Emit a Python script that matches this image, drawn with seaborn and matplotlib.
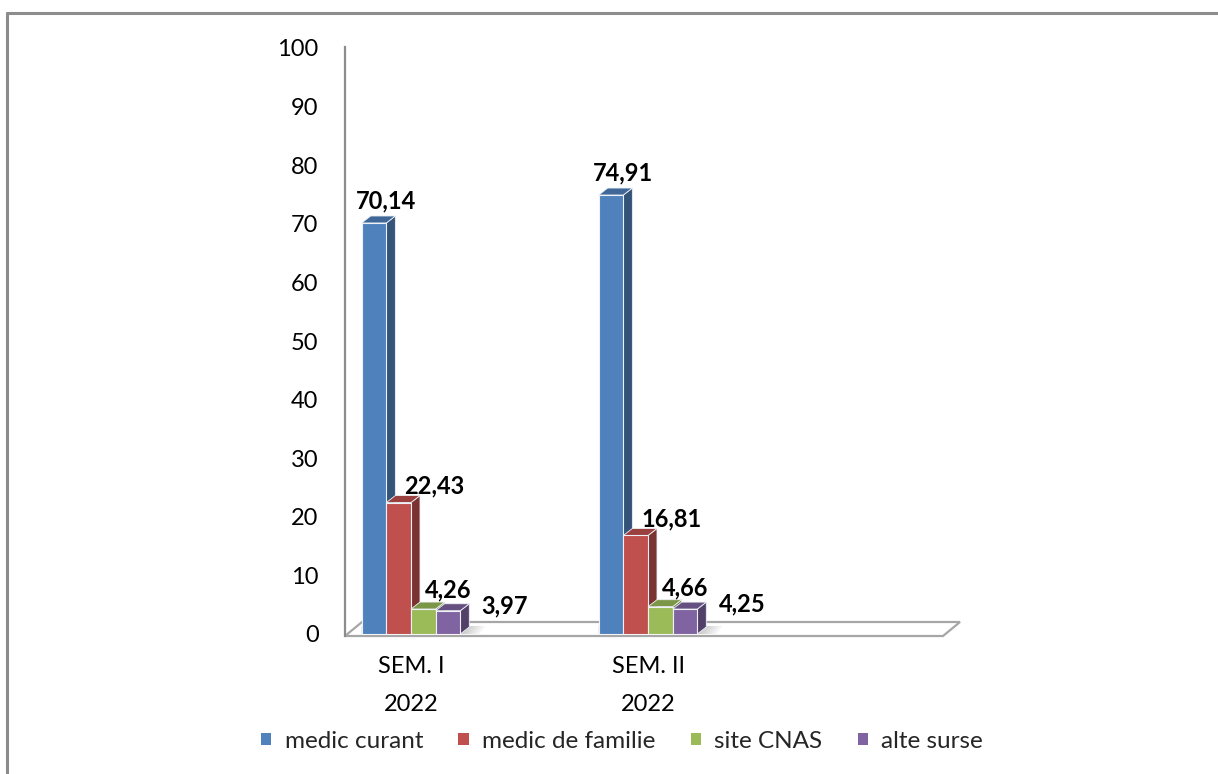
import numpy as np
import pandas as pd
import matplotlib
matplotlib.use("Agg")
import matplotlib.pyplot as plt
import matplotlib.colors as mcolors
from matplotlib.patches import Polygon, Rectangle
from matplotlib.lines import Line2D
import seaborn as sns

# ---- data -------------------------------------------------------------
periods = ["SEM. I\n2022", "SEM. II\n2022"]
sources = ["medic curant", "medic de familie", "site CNAS", "alte surse"]
medic_curant = [70.14, 74.91]
medic_de_familie = [22.43, 16.81]
site_cnas = [4.26, 4.66]
alte_surse = [3.97, 4.25]
y_ticks = list(range(0, 101, 10))

colors = ["#4F81BD", "#C0504D", "#9BBB59", "#8064A2"]

df = pd.DataFrame({
    "period": periods * len(sources),
    "source": np.repeat(sources, len(periods)),
    "value": medic_curant + medic_de_familie + site_cnas + alte_surse,
})

# ---- figure -----------------------------------------------------------
sns.set_theme(style="white")
plt.rcParams["font.family"] = ["Lato", "DejaVu Sans"]

W, H = 1218, 774
fig = plt.figure(figsize=(W / 100, H / 100), dpi=100)
fig.patch.set_facecolor("white")


def fx(px):
    return px / W


def fy(py):
    return 1 - py / H


ax = fig.add_axes([fx(345), fy(634), fx(943) - fx(345), fy(48) - fy(634)])
sns.barplot(data=df, x="period", y="value", hue="source", order=periods,
            hue_order=sources, palette=colors, saturation=1, width=0.416,
            errorbar=None, legend=False, ax=ax)

bars = sorted([p for p in ax.patches if isinstance(p, Rectangle)],
              key=lambda p: p.get_x())

ax.set_xlim(-0.2785, 2.2447)
ax.set_ylim(0, 100)

# pixel scale helpers for the pseudo-3D depth
px_x = (ax.get_xlim()[1] - ax.get_xlim()[0]) / 598.0
px_y = 100.0 / 586.0
dx, dy = 9 * px_x, 7 * px_y


def shade(c, f):
    r, g, b = mcolors.to_rgb(c)
    return (r * f, g * f, b * f)


# floor
floor = Polygon([(-0.2785, -2 * px_y), (2.2447, -2 * px_y),
                 (2.2447 + 17 * px_x, 12 * px_y), (-0.2785 + 17 * px_x, 12 * px_y)],
                closed=True, facecolor="white", edgecolor="#A6A6A6", lw=1.6,
                zorder=0.5, clip_on=False)
ax.add_patch(floor)

# soft shadow cast by each group of bars onto the floor
for gx in range(len(periods)):
    grp = [b for b in bars if abs(b.get_x() + b.get_width() / 2 - gx) < 0.3]
    left = min(b.get_x() for b in grp)
    right = max(b.get_x() + b.get_width() for b in grp)
    for k in range(6):
        ext = (4 + k * 3) * px_x
        shadow = Polygon([(left, 0), (right + ext, 0),
                          (right + ext + 6 * px_x, 8 * px_y), (left, 8 * px_y)],
                         closed=True, facecolor="#7F7F7F", edgecolor="none",
                         alpha=0.07, zorder=1)
        ax.add_patch(shadow)

offsets = {
    "#4F81BD": (12, 22),
    "#C0504D": (36, 17),
    "#9BBB59": (25, 19),
    "#8064A2": (57, 5),
}
for i, bar in enumerate(bars):
    x0, w, h = bar.get_x(), bar.get_width(), bar.get_height()
    col = mcolors.to_hex(bar.get_facecolor()).upper()
    z = 3 + i * 0.1
    bar.set_zorder(z + 0.05)
    bar.set_edgecolor("#EEF2F8")
    bar.set_linewidth(0.8)
    side = Polygon([(x0 + w, 0), (x0 + w + dx, dy), (x0 + w + dx, h + dy), (x0 + w, h)],
                   closed=True, facecolor=shade(col, 0.64), edgecolor="#EEF2F8",
                   lw=0.6, zorder=z, clip_on=False)
    top = Polygon([(x0, h), (x0 + dx, h + dy), (x0 + w + dx, h + dy), (x0 + w, h)],
                  closed=True, facecolor=shade(col, 0.8), edgecolor="#EEF2F8",
                  lw=0.6, zorder=z, clip_on=False)
    ax.add_patch(side)
    ax.add_patch(top)
    ox, oy = offsets.get(col, (15, 18))
    ax.annotate(f"{h:.2f}".replace(".", ","), xy=(x0 + w / 2, h),
                xytext=(ox, oy), textcoords="offset pixels", ha="center",
                va="center", fontsize=17, fontweight="bold", color="black",
                zorder=10, annotation_clip=False)

# axes styling
for s in ["top", "right", "bottom"]:
    ax.spines[s].set_visible(False)
ax.spines["left"].set_color("#8C8C8C")
ax.spines["left"].set_linewidth(1.6)
ax.spines["left"].set_bounds(-2 * px_y, 100.2)
ax.set_yticks(y_ticks)
ax.set_yticklabels([str(t) for t in y_ticks])
ax.tick_params(axis="y", length=0, pad=19, labelsize=17, labelcolor="black")
ax.tick_params(axis="x", length=0, pad=16, labelsize=17, labelcolor="black")
for lbl in ax.get_xticklabels():
    lbl.set_linespacing(2.0)
ax.set_xlabel("")
ax.set_ylabel("")
ax.grid(False)
ax.set_facecolor("none")

# legend
handles = [Rectangle((0, 0), 1, 1, facecolor=c, edgecolor="none") for c in colors]
fig.legend(handles, sources, loc="center", bbox_to_anchor=(fx(622), fy(741)),
           ncol=4, frameon=False, fontsize=17.5, handlelength=0.42,
           handleheight=0.42, handletextpad=0.55, columnspacing=1.45)

# outer frame (top and left edges)
fig.add_artist(Line2D([fx(7), 1.0], [fy(13), fy(13)], color="#8C8C8C", lw=2.2,
                      transform=fig.transFigure))
fig.add_artist(Line2D([fx(7), fx(7)], [fy(13), 0.0], color="#8C8C8C", lw=2.2,
                      transform=fig.transFigure))

fig.savefig("out.png", dpi=100)
